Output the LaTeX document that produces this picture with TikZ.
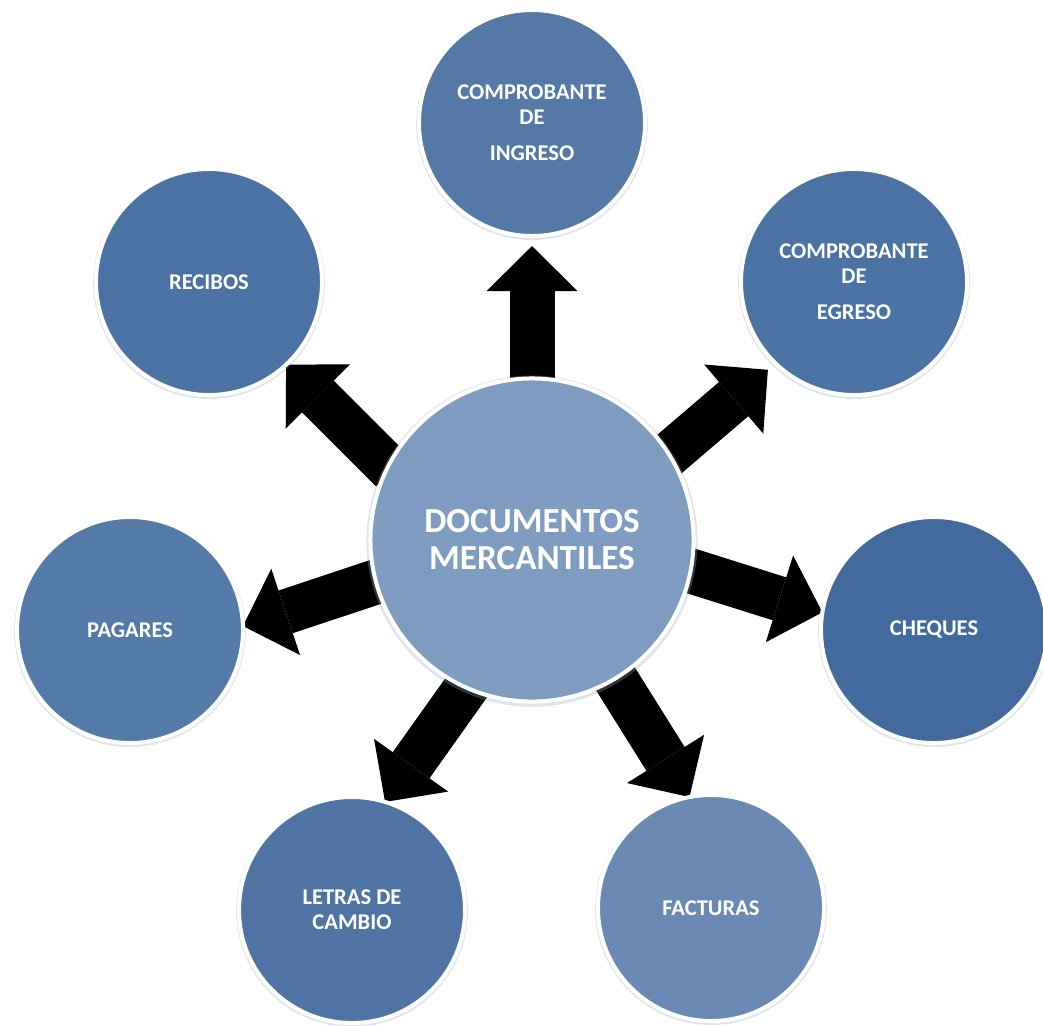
\documentclass[tikz,border=0pt]{standalone}
\usepackage{fontspec}
\setmainfont{Carlito}
\usepackage{tikz}
\usetikzlibrary{arrows.meta,shadows,backgrounds}

\definecolor{midblue}{RGB}{126,156,192}
\definecolor{ingblue}{RGB}{84,121,166}
\definecolor{egrblue}{RGB}{74,114,163}
\definecolor{recblue}{RGB}{74,114,163}
\definecolor{pagblue}{RGB}{84,122,168}
\definecolor{chqblue}{RGB}{67,106,157}
\definecolor{facblue}{RGB}{106,138,180}
\definecolor{letblue}{RGB}{79,116,164}
\definecolor{glowgray}{RGB}{150,170,195}

\begin{document}
\begin{tikzpicture}
          [x=0.025cm, y=-0.025cm,
           doc/.style={draw=white, circle, line width=0.1cm, outer sep=0pt, inner sep=0pt,
                       minimum size=5.65cm, text=white, align=center,
                       font=\fontsize{16}{17.8}\selectfont\bfseries,
                       drop shadow={shadow xshift=0pt, shadow yshift=-0.8pt, shadow scale=1.025,
                                    opacity=0.3, fill=glowgray}},
           bigarrow/.style={line width=1.125cm, shorten <=-4pt,
                            -{Triangle[length=1.125cm, width=2.275cm, line width=0pt]}}]
          \useasboundingbox (0,0) rectangle (1043,1025);

          \node (mid) [doc, minimum size=8.075cm, fill=midblue,
                       font=\fontsize{25}{26.3}\selectfont\bfseries] at (532,540) {DOCUMENTOS\\MERCANTILES};

          \node (ing) [doc, fill=ingblue] at (532,123) {COMPROBANTE\\DE\\[7.8pt]INGRESO};
          \node (egr) [doc, fill=egrblue] at (854,282) {COMPROBANTE\\DE\\[7.8pt]EGRESO};
          \node (chq) [doc, fill=chqblue] at (934,630) {CHEQUES};
          \node (fac) [doc, fill=facblue] at (711,908) {FACTURAS};
          \node (let) [doc, fill=letblue] at (352,910) {LETRAS DE\\CAMBIO};
          \node (pag) [doc, fill=pagblue] at (130,630) {PAGARES};
          \node (rec) [doc, fill=recblue] at (209,282) {RECIBOS};

          \begin{scope}[on background layer]
          \draw[bigarrow, shorten >=0.25cm] (mid.90) -- (ing.270);
          \draw[bigarrow, shorten >=0.25cm] (mid.32) -- (egr.226);
          \draw[bigarrow] (mid.349) -- (chq.171);
          \draw[bigarrow] (mid.301) -- (fac.101);
          \draw[bigarrow] (mid.246) -- (let.73);
          \draw[bigarrow] (mid.195) -- (pag.2);
          \draw[bigarrow] (mid.153) -- (rec.313);
          \end{scope}

        \end{tikzpicture}
\end{document}
